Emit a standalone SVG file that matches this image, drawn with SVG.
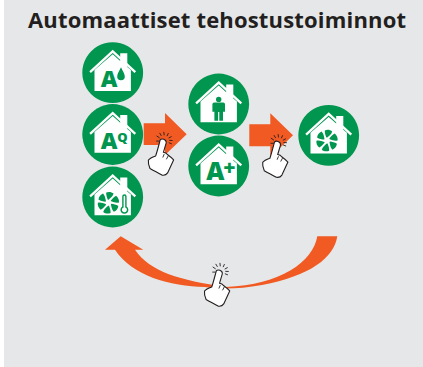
<svg xmlns="http://www.w3.org/2000/svg" xmlns:xlink="http://www.w3.org/1999/xlink" width="423" height="367" viewBox="0 0 423 367">
<style>
.c{fill:#00964f}
.w{fill:#fff}
.g{fill:#00964f}
.roof{fill:none;stroke:#fff;stroke-width:2.3}
.o{fill:#f15a22}
.hand{fill:#fff;stroke:#231f20;stroke-width:1.1;stroke-linejoin:round}
.spark{fill:none;stroke:#231f20;stroke-width:.9}
.lab{font-family:"Open Sans","Liberation Sans",sans-serif;font-weight:800;fill:#00964f;text-anchor:middle}
.title{font-family:"Open Sans","Liberation Sans",sans-serif;font-weight:700;font-size:22px;fill:#231f20}
</style>
<defs>
<g id="house">
<path class="c" d="M0-30.400a30.400 30.400 0 1 0 .01 0z"/>
<path class="roof" d="M-22.600-.6L0-21.400 22.600-.6"/>
<path class="w" d="M-18.200 18.200V-2.600L0-18.400 7.500-11.800V-19.400H14.600V-5.600L18.200-2.600V18.200Z"/>
</g>
<path id="blade" d="M.2-3C2.200-4.800 4.400-6.400 5.200-9.200 3.400-10.800 .2-11.200-2.200-10.200-2.400-7.800-1.400-5-.6-3Z"/>
<g id="fan" class="g">
<use xlink:href="#blade"/>
<use xlink:href="#blade" transform="rotate(60)"/>
<use xlink:href="#blade" transform="rotate(120)"/>
<use xlink:href="#blade" transform="rotate(180)"/>
<use xlink:href="#blade" transform="rotate(240)"/>
<use xlink:href="#blade" transform="rotate(300)"/>
</g>
<g id="hand">
<path class="hand" d="M-3-.6C-4.500 5-6 11-7.600 15.600-10.400 16.600-13.400 17.800-14.800 19.600-15.200 22.600-14.400 25.400-13.200 28-9 30.400-5 32.400-1.200 34.600 1 35 3.200 34.200 4.400 32.400L10.400 19.400C8.400 17.200 6.400 15.600 4.200 14 3.400 12.800 1.800 12 .2 11.800L3 2.400C3.400-1.400-1.800-2.400-3-.6Z"/>
<path class="spark" d="M1 13.600L-.4 17M5 15.400L3.200 18.800"/>
<path class="spark" d="M-3.600-2.600L-6.600-4.600M-3.600.6L-7 .6M-1.800-4.600L-3.600-7.600M1-5.200L.6-8.600M3.800-4.400L5.200-7.400M5.400-2.400L8.400-4M6-.2L9.400 0M5.600 2.200L8.600 3.400"/>
</g>
</defs>
<rect x="4" y="0" width="419" height="367" fill="#e6e7e8"/>
<text class="title" x="28" y="27.500" textLength="378" lengthAdjust="spacing">Automaattiset tehostustoiminnot</text>
<g id="connectors">
<path id="arrow-1" class="o" d="M143.700 123.300H165V113L186.700 134.300 165 155 165 145 143.700 145Z"/>
<path id="arrow-2" class="o" d="M249.300 124.300H270.300V113.300L293 135.300 270.300 157.300V146.300H249.300Z"/>
<path id="arrow-3" class="o" d="M337.300 236.300H317.300C313 262 280 285 226 287 180 280 150 272 135 249.700H143.300L120.700 236.300 105 249.700H115C132 276 170 286 205 287 220 289.500 240 289 262 285 310 276 334 258 337.300 236.300Z"/>
</g>
<g id="node-a-drop" transform="translate(112.700 72.700)">
<use xlink:href="#house"/>
<text class="lab" x="-3.500" y="14.300" font-size="23">A</text>
<path class="g" d="M8.300-5.500C6.500-1.500 4.500 1 4.500 3.800A3.800 3.800 0 0 0 12.100 3.800C12.100 1 10-1.500 8.300-5.500Z"/>
</g>
<g id="node-a-q" transform="translate(112.700 134.500)">
<use xlink:href="#house"/>
<text class="lab" x="-3.500" y="14.300" font-size="23">A</text>
<text class="lab" x="9.700" y="7.300" font-size="13">Q</text>
</g>
<g id="node-fan-thermo" transform="translate(112.700 197)">
<use xlink:href="#house"/>
<use xlink:href="#fan" transform="translate(-4.300 5.700)"/>
<path class="g" d="M9.500-.5A2.200 2.200 0 0 1 13.900-.5V9.500A4 4 0 1 1 9.500 9.500Z"/>
<path class="w" d="M10.900-.5A.8.800 0 0 1 12.500-.5V10.400A2.500 2.500 0 1 1 10.900 10.400Z"/>
</g>
<g id="node-person" transform="translate(218.700 104)">
<use xlink:href="#house"/>
<circle class="g" cx="0" cy="-4.600" r="2.700"/>
<path class="g" d="M-4.500-1.600H4.500Q6.300-1.600 6.300.2V7.800H4.300V16.700H.6V8H-.6V16.700H-4.300V7.800H-6.300V.2Q-6.300-1.600-4.500-1.600Z"/>
</g>
<g id="node-a-plus" transform="translate(218.700 166)">
<use xlink:href="#house"/>
<text class="lab" x="-12.500" y="14.300" style="text-anchor:start" font-size="25">A<tspan font-size="21" dx="-1" dy="-5.300">+</tspan></text>
</g>
<g id="node-fan" transform="translate(328.700 135.300)">
<use xlink:href="#house"/>
<use xlink:href="#fan" transform="translate(-1.700 5.300)"/>
</g>
<g id="hands">
<use xlink:href="#hand" transform="translate(163.200 140.500)"/>
<use xlink:href="#hand" transform="translate(277.500 142.700)"/>
<use xlink:href="#hand" transform="translate(219.300 271.500)"/>
</g>
</svg>
